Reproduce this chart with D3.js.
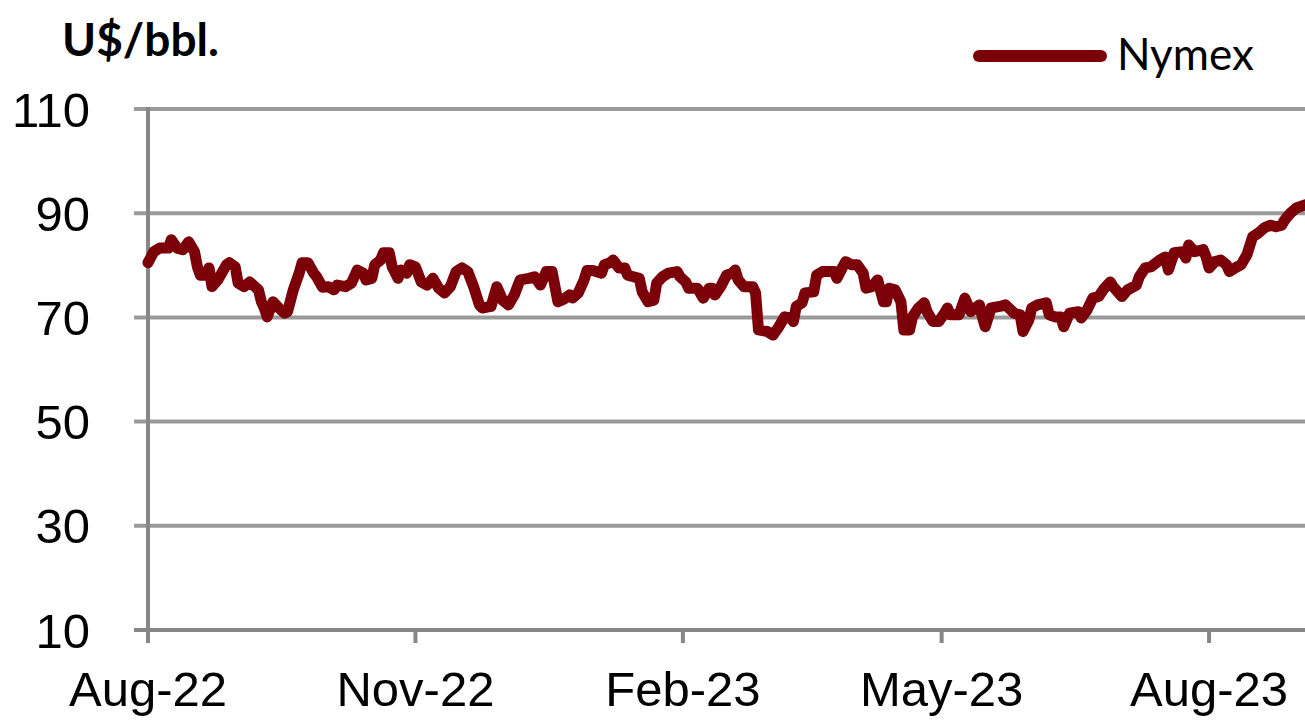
<!DOCTYPE html>
<html>
<head>
<meta charset="utf-8">
<script src="https://cdn.jsdelivr.net/npm/d3@7"></script>
<style>
  html, body { margin: 0; padding: 0; background: #fff; }
  svg { display: block; }
</style>
</head>
<body>
<svg id="chart" width="1305" height="720"></svg>
<script>
const dates = [
"2022-08-01","2022-08-03","2022-08-05","2022-08-08","2022-08-09","2022-08-11","2022-08-13","2022-08-15","2022-08-17","2022-08-18",
"2022-08-19","2022-08-21","2022-08-22","2022-08-23","2022-08-25","2022-08-28","2022-08-29","2022-08-31","2022-09-01","2022-09-03",
"2022-09-05","2022-09-08","2022-09-09","2022-09-10","2022-09-11","2022-09-13","2022-09-15","2022-09-17","2022-09-18","2022-09-20",
"2022-09-22","2022-09-23","2022-09-25","2022-09-27","2022-09-28","2022-09-30","2022-10-02","2022-10-04","2022-10-05","2022-10-08",
"2022-10-10","2022-10-12","2022-10-14","2022-10-15","2022-10-17","2022-10-18","2022-10-20","2022-10-21","2022-10-23","2022-10-24",
"2022-10-26","2022-10-27","2022-10-29","2022-10-30","2022-11-01","2022-11-03","2022-11-05","2022-11-07","2022-11-09","2022-11-11",
"2022-11-13","2022-11-15","2022-11-17","2022-11-19","2022-11-21","2022-11-23","2022-11-24","2022-11-27","2022-11-29","2022-12-01",
"2022-12-03","2022-12-05","2022-12-07","2022-12-10","2022-12-12","2022-12-14","2022-12-16","2022-12-18","2022-12-20","2022-12-22",
"2022-12-24","2022-12-25","2022-12-27","2022-12-29","2022-12-30","2023-01-01","2023-01-04","2023-01-05","2023-01-07","2023-01-08",
"2023-01-10","2023-01-12","2023-01-13","2023-01-15","2023-01-17","2023-01-18","2023-01-20","2023-01-22","2023-01-23","2023-01-25",
"2023-01-27","2023-01-30","2023-01-31","2023-02-02","2023-02-03","2023-02-06","2023-02-08","2023-02-10","2023-02-11","2023-02-12",
"2023-02-14","2023-02-16","2023-02-18","2023-02-19","2023-02-20","2023-02-22","2023-02-25","2023-02-26","2023-02-27","2023-03-02",
"2023-03-04","2023-03-06","2023-03-08","2023-03-10","2023-03-11","2023-03-12","2023-03-14","2023-03-15","2023-03-18","2023-03-19",
"2023-03-21","2023-03-25","2023-03-26","2023-03-28","2023-03-29","2023-03-31","2023-04-02","2023-04-04","2023-04-05","2023-04-07",
"2023-04-09","2023-04-11","2023-04-12","2023-04-13","2023-04-15","2023-04-17","2023-04-18","2023-04-20","2023-04-21","2023-04-23",
"2023-04-25","2023-04-26","2023-04-28","2023-04-30","2023-05-02","2023-05-03","2023-05-04","2023-05-07","2023-05-09","2023-05-11",
"2023-05-14","2023-05-15","2023-05-16","2023-05-18","2023-05-21","2023-05-23","2023-05-26","2023-05-28","2023-05-29","2023-05-31",
"2023-06-01","2023-06-03","2023-06-06","2023-06-07","2023-06-09","2023-06-11","2023-06-12","2023-06-14","2023-06-17","2023-06-18",
"2023-06-20","2023-06-22","2023-06-24","2023-06-26","2023-06-28","2023-06-29","2023-07-02","2023-07-04","2023-07-07","2023-07-08",
"2023-07-10","2023-07-12","2023-07-15","2023-07-17","2023-07-18","2023-07-20","2023-07-23","2023-07-24","2023-07-25","2023-07-27",
"2023-07-30","2023-07-31","2023-08-01","2023-08-03","2023-08-05","2023-08-07","2023-08-08","2023-08-10","2023-08-12","2023-08-14",
"2023-08-16","2023-08-18","2023-08-20","2023-08-22","2023-08-24","2023-08-26","2023-08-27","2023-08-29","2023-08-31","2023-09-01",
"2023-09-03"
];
const nymex = [
80.5,82.6,83.3,83.3,84.9,83.3,83.0,84.5,82.6,79.7,
78.1,78.1,79.5,75.9,77.2,80.1,80.5,79.7,76.6,75.9,
76.8,75.3,73.0,71.8,70.1,73.0,71.8,70.8,71.1,75.3,
78.5,80.5,80.5,78.5,77.8,75.8,75.9,75.3,76.2,75.9,
76.6,79.1,78.5,77.2,77.5,80.1,81.0,82.4,82.4,79.7,
77.5,79.1,78.5,80.1,79.7,76.8,76.2,77.5,75.6,74.7,
75.9,78.8,79.5,78.8,75.9,72.4,71.8,72.1,75.9,73.3,
72.4,74.3,77.2,77.5,77.8,76.2,78.8,78.8,73.0,73.5,
74.3,73.7,74.7,77.2,79.0,79.0,78.5,80.1,80.5,81.0,
79.5,79.5,78.1,77.8,77.5,74.9,73.0,73.3,76.6,77.8,
78.5,78.8,77.8,76.8,75.6,75.6,73.7,75.6,75.6,74.3,
75.9,78.1,78.5,79.1,77.2,75.9,75.9,74.7,67.6,67.3,
66.6,68.2,70.1,69.9,69.2,72.1,72.8,74.7,74.9,78.1,
78.8,78.8,77.5,79.7,80.7,80.1,80.1,78.5,75.6,75.9,
77.2,73.0,73.0,75.6,75.3,73.0,67.6,67.6,70.1,71.8,
72.8,71.1,69.2,69.2,70.8,71.8,70.5,70.5,73.7,71.1,
72.4,70.1,68.2,71.8,72.1,72.4,70.8,70.5,67.3,69.5,
71.8,72.4,72.8,70.5,70.1,70.1,68.2,70.8,71.1,69.9,
71.4,73.7,74.0,75.6,76.8,75.9,74.0,75.3,76.2,77.8,
79.5,79.7,81.0,81.6,79.1,82.4,82.6,81.4,83.9,82.6,
83.0,81.6,79.5,80.7,81.0,80.1,78.8,79.5,80.1,82.0,
85.5,86.2,87.2,87.7,87.4,87.7,88.7,90.0,91.0,91.2,
91.6
];
const yTicks = [10, 30, 50, 70, 90, 110];
const xTickDates = ["2022-08-01","2022-11-01","2023-02-01","2023-05-01","2023-08-01"];
const xTickLabels = ["Aug-22","Nov-22","Feb-23","May-23","Aug-23"];
const seriesName = "Nymex";
const unitLabel = "U$/bbl.";

const parse = d3.timeParse("%Y-%m-%d");
const data = dates.map((d, i) => ({ date: parse(d), value: nymex[i] }));

const svg = d3.select("#chart");
const x = d3.scaleTime()
  .domain([parse("2022-08-01"), parse("2023-09-03")])
  .range([148, 1305]);
const y = d3.scaleLinear().domain([10, 110]).range([630, 109]);

const gridColor = "#9a9a9a";
const axisColor = "#878787";
const lineColor = "#7b0008";

// gridlines (with left tick stubs)
svg.append("g").selectAll("line").data(yTicks.filter(t => t !== 10)).join("line")
  .attr("x1", 134).attr("x2", 1305)
  .attr("y1", d => y(d)).attr("y2", d => y(d))
  .attr("stroke", gridColor).attr("stroke-width", 4);

// y-axis line
svg.append("line")
  .attr("x1", 148).attr("x2", 148)
  .attr("y1", y(110) - 2).attr("y2", y(10))
  .attr("stroke", axisColor).attr("stroke-width", 4);

// x-axis line
svg.append("line")
  .attr("x1", 134).attr("x2", 1305)
  .attr("y1", y(10)).attr("y2", y(10))
  .attr("stroke", axisColor).attr("stroke-width", 4);

// x ticks
svg.append("g").selectAll("line").data(xTickDates).join("line")
  .attr("x1", d => x(parse(d))).attr("x2", d => x(parse(d)))
  .attr("y1", y(10)).attr("y2", y(10) + 13)
  .attr("stroke", axisColor).attr("stroke-width", 4);

// y tick labels
svg.append("g").selectAll("text").data(yTicks).join("text")
  .attr("x", 90).attr("y", d => y(d))
  .attr("dy", "0.36em")
  .attr("text-anchor", "end")
  .attr("font-family", "Liberation Sans, Arial, sans-serif")
  .attr("font-size", 49)
  .attr("fill", "#000")
  .text(d => d);

// x tick labels
svg.append("g").selectAll("text").data(xTickDates).join("text")
  .attr("x", d => x(parse(d)))
  .attr("y", 706)
  .attr("text-anchor", "middle")
  .attr("font-family", "Liberation Sans, Arial, sans-serif")
  .attr("font-size", 49)
  .attr("fill", "#000")
  .text((d, i) => xTickLabels[i]);

// series line
const line = d3.line().x(d => x(d.date)).y(d => y(d.value)).curve(d3.curveLinear);
svg.append("path")
  .datum(data)
  .attr("d", line)
  .attr("fill", "none")
  .attr("stroke", lineColor)
  .attr("stroke-width", 11)
  .attr("stroke-linejoin", "round")
  .attr("stroke-linecap", "round");

// unit label
svg.append("text")
  .attr("x", 62).attr("y", 56)
  .attr("font-family", "Lato, 'Open Sans', sans-serif")
  .attr("font-weight", "bold")
  .attr("font-size", 46)
  .attr("fill", "#000")
  .text(unitLabel);

// legend
svg.append("line")
  .attr("x1", 979).attr("x2", 1101)
  .attr("y1", 56).attr("y2", 56)
  .attr("stroke", lineColor).attr("stroke-width", 12)
  .attr("stroke-linecap", "round");
svg.append("text")
  .attr("x", 1117).attr("y", 70)
  .attr("font-family", "Lato, 'Open Sans', sans-serif")
  .attr("font-size", 44)
  .attr("fill", "#000")
  .text(seriesName);
</script>
</body>
</html>
